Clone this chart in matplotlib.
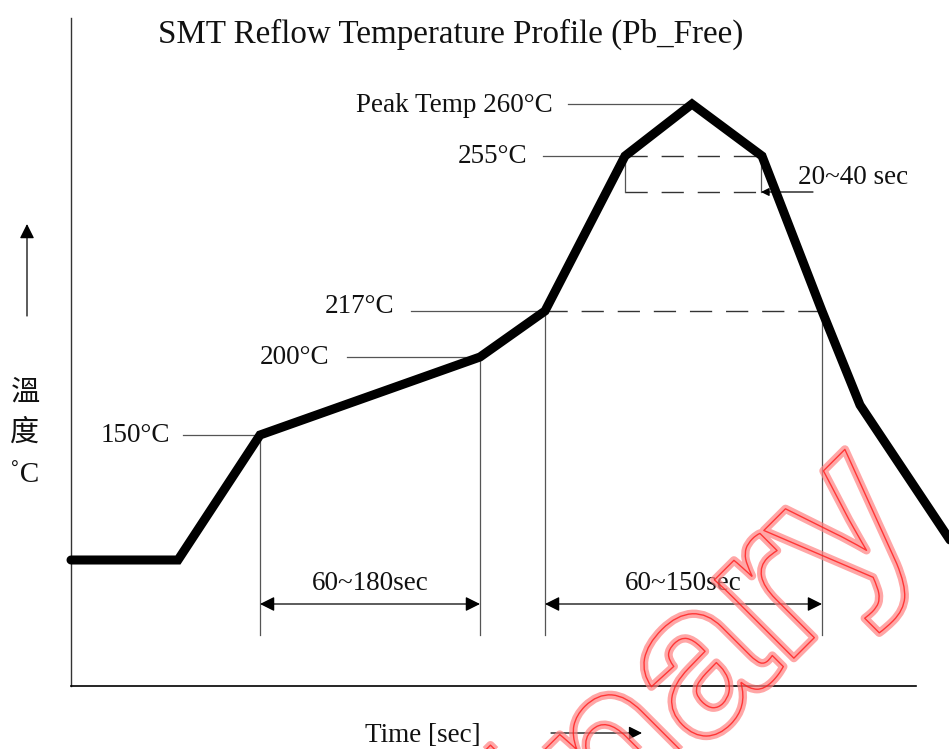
import matplotlib
matplotlib.use("Agg")
import matplotlib.pyplot as plt
import matplotlib.patheffects as pe

# ---- schematic data (drawing units: x = time axis, y = height, downwards) ----
profile_t = [71, 178, 260, 480, 545, 625, 692, 762, 822, 860, 950]
profile_y = [560, 560, 435, 357, 311, 156, 104, 156, 311, 405, 540]

temp_labels = ["Peak Temp 260°C", "255°C", "217°C", "200°C", "150°C"]
temp_label_right = [553, 527, 394, 329, 170]
temp_label_base = [112, 163, 313, 364, 442]
leader_start = [568, 543, 411, 347, 183]
leader_end = [692, 625, 545, 480, 260]
leader_y = [104, 156, 311, 357, 435]

span_labels = ["60~180sec", "60~150sec"]
span_start = [260, 545]
span_end = [480, 822]
span_top = [435, 311]
span_end_top = [357, 311]
span_bottom = 635
span_arrow_y = 604

tal_box_left, tal_box_right = 625, 761
tal_box_top, tal_box_bottom = 156, 192
tal_label = "20~40 sec"

title = "SMT Reflow Temperature Profile (Pb_Free)"
xlabel = "Time [sec]"
ylabel_chars = ["溫", "度", "˚C"]

W, H = 949, 749
fig = plt.figure(figsize=(W / 100, H / 100), dpi=100)
ax = fig.add_axes([0, 0, 1, 1])
ax.set_xlim(0, W)
ax.set_ylim(H, 0)
ax.axis("off")

serif = "Liberation Serif"
thin = dict(color="#555555", lw=0.9)

# axes lines
ax.plot([71, 71], [18, 686], color="#333333", lw=1.0)
ax.plot([71, 916], [686, 686], color="black", lw=1.2)

# leader lines and temperature labels
for lab, xr, yb, xs, xe, yl in zip(temp_labels, temp_label_right, temp_label_base,
                                   leader_start, leader_end, leader_y):
    ax.plot([xs, xe], [yl, yl], **thin)
    ax.text(xr, yb, lab, ha="right", va="baseline", fontsize=19.5,
            family=serif, color="#111111")

# 217 dashed line across to profile
ax.plot([545, 822], [311, 311], color="#333333", lw=1.0, ls=(0, (16, 10)))

# time above liquidus box
ax.plot([tal_box_left, tal_box_right], [tal_box_top, tal_box_top],
        color="#333333", lw=1.0, ls=(0, (16, 10)))
ax.plot([tal_box_left, tal_box_right], [tal_box_bottom, tal_box_bottom],
        color="#333333", lw=1.0, ls=(0, (16, 10)))
ax.plot([tal_box_left, tal_box_left], [tal_box_top, tal_box_bottom], **thin)
ax.plot([tal_box_right, tal_box_right], [tal_box_top, tal_box_bottom], **thin)
ax.annotate("", xy=(tal_box_right, tal_box_bottom), xytext=(813, tal_box_bottom),
            arrowprops=dict(arrowstyle="-|>", color="black", lw=0.9,
                            mutation_scale=12, shrinkA=0, shrinkB=0))
ax.text(798, 184, tal_label, ha="left", va="baseline", fontsize=19.5,
        family=serif, color="#111111")

# span vertical lines and dimension arrows
for lab, xs, xe, yt, yte in zip(span_labels, span_start, span_end, span_top, span_end_top):
    ax.plot([xs, xs], [yt, span_bottom], **thin)
    ax.plot([xe, xe], [yte, span_bottom], **thin)
    ax.annotate("", xy=(xs, span_arrow_y), xytext=(xe, span_arrow_y),
                arrowprops=dict(arrowstyle="<|-|>", color="black", lw=0.9,
                                mutation_scale=22, shrinkA=0, shrinkB=0))
    ax.text((xs + xe) / 2, 590, lab, ha="center", va="baseline",
            fontsize=19.5, family=serif, color="#111111")

# profile
ax.plot(profile_t, profile_y, color="black", lw=6.5, solid_joinstyle="miter",
        solid_capstyle="round")

# title
ax.text(158, 43, title, ha="left", va="baseline", fontsize=23.8,
        family=serif, color="#111111")

# x label and arrow
ax.text(365, 742, xlabel, ha="left", va="baseline", fontsize=19.5,
        family=serif, color="#111111")
ax.annotate("", xy=(642, 733), xytext=(551, 733),
            arrowprops=dict(arrowstyle="-|>", color="black", lw=0.9,
                            mutation_scale=20, shrinkA=0, shrinkB=0))

# y label (stacked) and arrow
for ch, yc in zip(ylabel_chars, [393, 433, 475]):
    fam = ["Noto Sans CJK TC", "DejaVu Sans"] if ch != "˚C" else [serif, "DejaVu Sans"]
    ax.text(25, yc, ch, ha="center", va="center", fontsize=21, family=fam,
            color="#111111")
ax.annotate("", xy=(27, 224), xytext=(27, 316),
            arrowprops=dict(arrowstyle="-|>", color="black", lw=0.9,
                            mutation_scale=22, shrinkA=0, shrinkB=0))

# watermark
ax.text(925, 527, "Preliminary", rotation=45, rotation_mode="anchor",
        ha="right", va="baseline", fontsize=152, family="Liberation Sans",
        fontweight="bold", color=(1, 1, 1, 0), zorder=10, clip_on=True,
        path_effects=[pe.Stroke(linewidth=6, foreground=(1, 0.5, 0.5, 0.7)),
                      pe.Stroke(linewidth=1.0, foreground=(1, 0.1, 0.1, 0.8))])

fig.savefig("out.png", dpi=100)
